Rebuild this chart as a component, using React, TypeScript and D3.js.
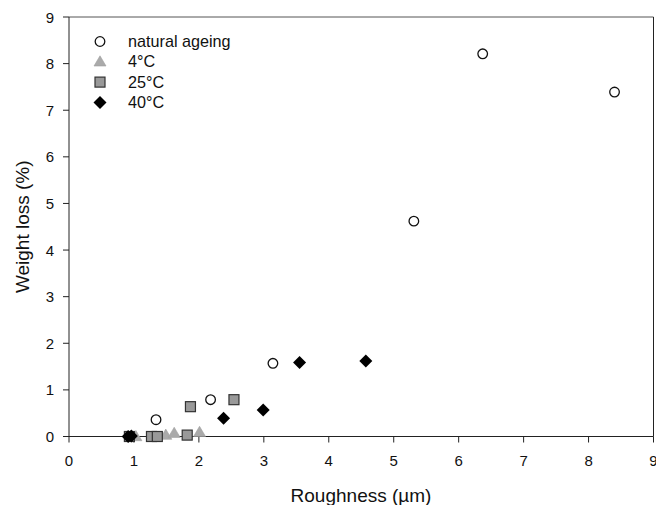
import React from "react";
import * as d3 from "d3";

const naturalX = [0.93, 1.34, 2.18, 3.14, 5.31, 6.37, 8.4];
const naturalY = [0, 0.36, 0.79, 1.57, 4.62, 8.21, 7.39];
const c4X = [1.03, 1.49, 1.62, 2.01];
const c4Y = [0, 0.03, 0.07, 0.09];
const c25X = [0.93, 1.27, 1.36, 1.82, 1.87, 2.54];
const c25Y = [0, 0, 0, 0.03, 0.64, 0.79];
const c40X = [0.91, 0.96, 2.38, 2.99, 3.55, 4.57];
const c40Y = [0, 0.01, 0.39, 0.57, 1.59, 1.62];
const xTicks = [0, 1, 2, 3, 4, 5, 6, 7, 8, 9];
const yTicks = [0, 1, 2, 3, 4, 5, 6, 7, 8, 9];
const legendLabels = ["natural ageing", "4°C", "25°C", "40°C"];

const W = 656, H = 505;
const L = 69, R = 653.5, T = 17, B = 436.5;

function Marker({ kind, x, y }: { kind: number; x: number; y: number }) {
  if (kind === 0)
    return <circle cx={x} cy={y} r={4.8} fill="#fff" stroke="#111" strokeWidth={1.3} />;
  if (kind === 1) {
    const s = 6;
    return (
      <path
        d={`M${x},${y - s}L${x + s},${y + s * 0.7}L${x - s},${y + s * 0.7}Z`}
        fill="#aaaaaa"
        stroke="#a0a0a0"
        strokeWidth={0.6}
      />
    );
  }
  if (kind === 2)
    return <rect x={x - 5} y={y - 5} width={10} height={10} fill="#999" stroke="#333" strokeWidth={1.2} />;
  const d = 6.5;
  return <path d={`M${x},${y - d}L${x + d},${y}L${x},${y + d}L${x - d},${y}Z`} fill="#000" />;
}

export default function App() {
  const x = d3.scaleLinear().domain([0, 9]).range([L, R]);
  const y = d3.scaleLinear().domain([0, 9]).range([B, T]);
  const series = [
    { xs: naturalX, ys: naturalY },
    { xs: c4X, ys: c4Y },
    { xs: c25X, ys: c25Y },
    { xs: c40X, ys: c40Y },
  ];
  const font = "Liberation Sans, Arial, sans-serif";
  return (
    <svg width={W} height={H} style={{ position: "absolute", left: 0, top: 0 }} fontFamily={font}>
      <rect x={0} y={0} width={W} height={H} fill="#fff" />
      <line x1={L} y1={T} x2={R} y2={T} stroke="#555" strokeWidth={1} />
      <line x1={R} y1={T} x2={R} y2={B} stroke="#222" strokeWidth={1} />
      <line x1={L} y1={T} x2={L} y2={B} stroke="#222" strokeWidth={1} />
      <line x1={L} y1={B} x2={R} y2={B} stroke="#222" strokeWidth={1} />
      {xTicks.map((t) => (
        <g key={"x" + t}>
          <line x1={x(t)} x2={x(t)} y1={B} y2={B + 6} stroke="#222" />
          <text x={x(t)} y={B + 29} textAnchor="middle" fontSize={15} fill="#111">
            {t}
          </text>
        </g>
      ))}
      {yTicks.map((t) => (
        <g key={"y" + t}>
          <line x1={L - 6} x2={L} y1={y(t)} y2={y(t)} stroke="#222" />
          <text x={L - 15} y={y(t) + 5.5} textAnchor="end" fontSize={15} fill="#111">
            {t}
          </text>
        </g>
      ))}
      <text x={361} y={502} textAnchor="middle" fontSize={19} fill="#111">
        Roughness (µm)
      </text>
      <text
        transform={`translate(29,${(T + B) / 2}) rotate(-90)`}
        textAnchor="middle"
        fontSize={19}
        fill="#111"
      >
        Weight loss (%)
      </text>
      {series.map((s, k) =>
        s.xs.map((v, i) => <Marker key={k + "-" + i} kind={k} x={x(v)} y={y(s.ys[i])} />)
      )}
      {legendLabels.map((lab, i) => (
        <g key={lab}>
          <Marker kind={i} x={100} y={41.5 + i * 20.3} />
          <text x={128} y={41.5 + i * 20.3 + 5.5} fontSize={16.2} fill="#111">
            {lab}
          </text>
        </g>
      ))}
    </svg>
  );
}
